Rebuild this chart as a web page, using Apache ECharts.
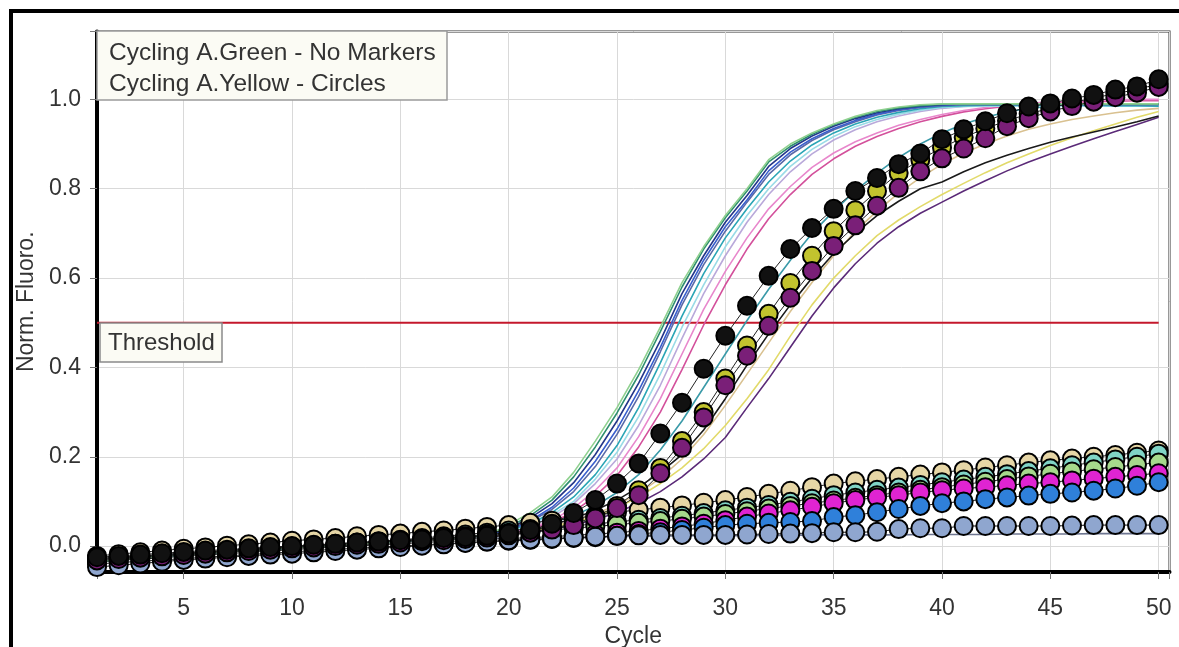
<!DOCTYPE html>
<html>
<head>
<meta charset="utf-8">
<title>Cycling A</title>
<script src="https://cdn.jsdelivr.net/npm/echarts@6/dist/echarts.min.js"></script>
<style>
html,body{margin:0;padding:0;background:#fff;}
#main{width:1179px;height:647px;}
</style>
</head>
<body>
<div id="main"></div>
<script>
// cycle numbers (x)
var cycles = [1,2,3,4,5,6,7,8,9,10,11,12,13,14,15,16,17,18,19,20,21,22,23,24,25,26,27,28,29,30,
  31,32,33,34,35,36,37,38,39,40,41,42,43,44,45,46,47,48,49,50];
var xTicks = [5,10,15,20,25,30,35,40,45,50];
var yTicks = [0.0,0.2,0.4,0.6,0.8,1.0];
var threshold = 0.5;

// Cycling A.Green - no markers: common baseline cycles 1-19, then cycles 20-50
var lineBase = [-0.035,-0.031,-0.027,-0.023,-0.019,-0.016,-0.013,-0.010,-0.007,-0.004,-0.001,0.002,0.005,0.008,0.011,0.014,0.017,0.020,0.024];
var gLightGreen = [0.048,0.075,0.11,0.165,0.235,0.31,0.395,0.49,0.59,0.67,0.74,0.80,0.865,0.90,0.925,0.945,0.962,0.975,0.983,0.988,0.99,0.99,0.99,0.99,0.99,0.99,0.99,0.99,0.99,0.99,0.99];
var gDarkGreen = [0.043,0.068,0.103,0.155,0.222,0.298,0.383,0.48,0.58,0.665,0.735,0.795,0.86,0.895,0.922,0.943,0.96,0.973,0.981,0.986,0.989,0.99,0.99,0.99,0.99,0.99,0.99,0.99,0.99,0.99,0.99];
var gNavy = [0.04,0.063,0.095,0.142,0.205,0.28,0.365,0.46,0.565,0.65,0.725,0.785,0.85,0.89,0.918,0.94,0.957,0.97,0.979,0.985,0.988,0.99,0.99,0.99,0.99,0.99,0.99,0.99,0.99,0.99,0.99];
var gBlue = [0.036,0.057,0.087,0.13,0.19,0.262,0.348,0.445,0.55,0.64,0.715,0.775,0.84,0.882,0.912,0.935,0.953,0.967,0.977,0.983,0.987,0.99,0.99,0.99,0.99,0.99,0.99,0.99,0.99,0.99,0.99];
var gSlate = [0.035,0.055,0.082,0.122,0.178,0.25,0.335,0.435,0.54,0.63,0.705,0.77,0.832,0.876,0.908,0.932,0.95,0.965,0.975,0.982,0.986,0.988,0.988,0.988,0.988,0.988,0.988,0.988,0.988,0.988,0.988];
var gTeal = [0.035,0.05,0.075,0.11,0.16,0.225,0.31,0.41,0.515,0.61,0.69,0.755,0.815,0.862,0.898,0.925,0.945,0.96,0.971,0.979,0.984,0.986,0.987,0.987,0.987,0.987,0.987,0.987,0.986,0.986,0.985];
var gCyan = [0.03,0.048,0.07,0.10,0.15,0.21,0.29,0.385,0.49,0.585,0.67,0.74,0.80,0.85,0.888,0.917,0.939,0.955,0.967,0.976,0.982,0.984,0.985,0.985,0.985,0.985,0.985,0.985,0.985,0.985,0.985];
var gLavender = [0.03,0.045,0.065,0.095,0.14,0.195,0.27,0.36,0.465,0.565,0.65,0.725,0.787,0.838,0.878,0.909,0.932,0.95,0.963,0.973,0.98,0.984,0.987,0.988,0.989,0.99,0.99,0.99,0.99,0.99,0.99];
var gPink = [0.028,0.04,0.058,0.085,0.125,0.175,0.245,0.33,0.43,0.53,0.615,0.69,0.755,0.805,0.848,0.88,0.905,0.925,0.942,0.955,0.966,0.975,0.982,0.987,0.991,0.994,0.996,0.998,0.999,1.0,1.0];
var gRose = [0.026,0.037,0.053,0.077,0.112,0.158,0.222,0.30,0.395,0.495,0.585,0.665,0.733,0.787,0.832,0.867,0.895,0.917,0.935,0.95,0.962,0.972,0.979,0.985,0.989,0.992,0.994,0.995,0.996,0.997,0.997];
var gDarkCyan = [0.03,0.04,0.052,0.068,0.09,0.12,0.16,0.215,0.28,0.355,0.43,0.505,0.575,0.64,0.70,0.75,0.795,0.835,0.87,0.90,0.925,0.945,0.96,0.972,0.98,0.985,0.988,0.99,0.99,0.99,0.99];
var gTan = [0.028,0.035,0.045,0.057,0.072,0.092,0.118,0.152,0.195,0.25,0.315,0.385,0.455,0.525,0.59,0.65,0.705,0.75,0.79,0.825,0.855,0.88,0.90,0.918,0.933,0.945,0.955,0.963,0.97,0.976,0.98];
var gBlack = [0.03,0.038,0.048,0.062,0.08,0.103,0.132,0.165,0.205,0.26,0.33,0.405,0.475,0.54,0.60,0.655,0.70,0.74,0.772,0.80,0.815,0.838,0.858,0.875,0.89,0.904,0.916,0.927,0.938,0.95,0.963];
var gYellow = [0.028,0.034,0.042,0.053,0.067,0.086,0.11,0.14,0.175,0.218,0.27,0.33,0.395,0.47,0.54,0.60,0.65,0.695,0.73,0.76,0.787,0.812,0.836,0.858,0.878,0.897,0.914,0.93,0.945,0.96,0.973];
var gPurple = [0.026,0.031,0.038,0.047,0.059,0.075,0.096,0.122,0.155,0.195,0.243,0.31,0.375,0.445,0.515,0.578,0.632,0.678,0.715,0.745,0.77,0.795,0.818,0.84,0.86,0.878,0.895,0.912,0.928,0.944,0.96];
var gFlat = [0.012,0.014,0.016,0.018,0.02,0.021,0.022,0.022,0.023,0.023,0.023,0.023,0.024,0.024,0.025,0.025,0.025,0.025,0.025,0.026,0.026,0.026,0.026,0.027,0.027,0.027,0.027,0.028,0.028,0.028,0.028];

// Cycling A.Yellow - circles (cycles 1-50)
var yBeige = [-0.022,-0.018,-0.014,-0.010,-0.006,-0.003,0.001,0.004,0.008,0.012,0.015,0.018,0.022,0.025,0.028,0.032,0.035,0.039,0.043,0.047,
  0.052,0.057,0.062,0.068,0.076,0.081,0.086,0.091,0.097,0.103,0.11,0.117,0.124,0.132,0.14,0.145,0.15,0.155,0.16,0.165,
  0.17,0.176,0.181,0.187,0.192,0.196,0.20,0.204,0.209,0.214];
var yTeal = [-0.028,-0.025,-0.022,-0.019,-0.016,-0.013,-0.010,-0.007,-0.004,-0.001,0.002,0.005,0.008,0.011,0.014,0.018,0.022,0.026,0.03,0.035,
  0.038,0.041,0.045,0.05,0.054,0.059,0.063,0.068,0.074,0.08,0.086,0.092,0.099,0.106,0.114,0.12,0.126,0.131,0.137,0.143,
  0.149,0.155,0.161,0.168,0.174,0.181,0.187,0.194,0.20,0.207];
var yGreen = [-0.03,-0.027,-0.024,-0.021,-0.018,-0.015,-0.012,-0.009,-0.006,-0.003,0.0,0.003,0.006,0.009,0.012,0.015,0.019,0.022,0.026,0.03,
  0.033,0.036,0.04,0.044,0.048,0.052,0.056,0.061,0.066,0.072,0.078,0.084,0.09,0.096,0.102,0.108,0.114,0.12,0.126,0.132,
  0.138,0.144,0.15,0.156,0.162,0.167,0.172,0.177,0.182,0.187];
var yMagenta = [-0.035,-0.032,-0.029,-0.026,-0.023,-0.020,-0.017,-0.014,-0.011,-0.008,-0.005,-0.002,0.0,0.003,0.005,0.008,0.01,0.012,0.015,0.017,
  0.019,0.021,0.024,0.027,0.03,0.034,0.039,0.044,0.05,0.058,0.066,0.073,0.08,0.088,0.096,0.103,0.109,0.114,0.12,0.125,
  0.129,0.132,0.136,0.14,0.143,0.147,0.151,0.155,0.159,0.163];
var yBlue = [-0.04,-0.037,-0.034,-0.031,-0.028,-0.025,-0.022,-0.019,-0.016,-0.013,-0.01,-0.007,-0.005,-0.002,0.0,0.003,0.005,0.008,0.01,0.012,
  0.014,0.016,0.018,0.02,0.023,0.027,0.031,0.036,0.041,0.047,0.05,0.052,0.054,0.056,0.065,0.069,0.076,0.083,0.09,0.096,
  0.10,0.105,0.109,0.113,0.117,0.12,0.124,0.129,0.135,0.143];
var ySteel = [-0.047,-0.043,-0.039,-0.035,-0.031,-0.028,-0.025,-0.022,-0.019,-0.017,-0.014,-0.011,-0.008,-0.005,-0.002,0.001,0.004,0.007,0.01,0.013,
  0.015,0.017,0.019,0.021,0.023,0.024,0.025,0.025,0.025,0.025,0.026,0.027,0.028,0.029,0.031,0.031,0.032,0.038,0.04,0.04,
  0.045,0.045,0.045,0.045,0.045,0.046,0.047,0.047,0.047,0.047];
var yOlive = [-0.028,-0.025,-0.022,-0.019,-0.016,-0.013,-0.010,-0.007,-0.004,-0.002,0.001,0.004,0.006,0.009,0.011,0.014,0.016,0.019,0.022,0.026,
  0.032,0.04,0.05,0.065,0.09,0.125,0.175,0.235,0.30,0.375,0.449,0.52,0.589,0.65,0.705,0.752,0.795,0.835,0.865,0.892,
  0.915,0.935,0.952,0.968,0.98,0.993,1.003,1.013,1.022,1.035];
var yPurple = [-0.032,-0.029,-0.026,-0.023,-0.020,-0.017,-0.014,-0.011,-0.008,-0.005,-0.003,0.0,0.003,0.005,0.008,0.011,0.013,0.016,0.019,0.024,
  0.03,0.037,0.047,0.062,0.085,0.114,0.163,0.22,0.288,0.36,0.426,0.493,0.556,0.616,0.672,0.718,0.762,0.802,0.839,0.868,
  0.89,0.913,0.94,0.958,0.973,0.985,0.995,1.005,1.015,1.028];
var yBlack = [-0.025,-0.022,-0.019,-0.016,-0.013,-0.010,-0.008,-0.005,-0.002,0.0,0.003,0.005,0.008,0.010,0.013,0.015,0.018,0.020,0.023,0.028,
  0.036,0.05,0.074,0.103,0.14,0.185,0.252,0.321,0.397,0.471,0.538,0.605,0.665,0.712,0.755,0.795,0.824,0.855,0.879,0.911,
  0.933,0.951,0.969,0.984,0.991,1.002,1.01,1.022,1.029,1.045];

function pairs(vals) {
  var out = [];
  for (var i = 0; i < vals.length; i++) out.push([cycles[i], vals[i]]);
  return out;
}

var series = [];
series.push({
  name: 'Threshold', type: 'line', silent: true, symbol: 'none',
  data: [[cycles[0], threshold], [cycles[cycles.length - 1], threshold]],
  lineStyle: { color: '#c4182c', width: 2 }
});

var lineList = [
  [gFlat, '#6d7590'], [gTan, '#d9c190'], [gPurple, '#5b2a78'], [gYellow, '#e2da6a'], [gBlack, '#1a1a1a'],
  [gDarkCyan, '#3a9aa8'], [gRose, '#d3509b'], [gPink, '#e887cc'], [gLavender, '#b9a9da'], [gCyan, '#99dbe6'],
  [gTeal, '#2aa5b5'], [gSlate, '#5a6aa8'], [gBlue, '#3a5fcd'], [gNavy, '#23358a'], [gDarkGreen, '#2f8f6f'], [gLightGreen, '#8fd18f']
];
lineList.forEach(function (l) {
  var full = lineBase.concat(l[0]);
  series.push({
    type: 'line', symbol: 'none', silent: true,
    data: pairs(full),
    lineStyle: { color: l[1], width: 1.6 }
  });
});

var markerList = [
  [yBeige, '#e6d6a6'], [yTeal, '#80d4c6'], [yGreen, '#a6d98c'], [yMagenta, '#e024d2'], [yBlue, '#2f80da'],
  [ySteel, '#8fa6cf'], [yOlive, '#c2c32e'], [yPurple, '#7a1f78'], [yBlack, '#111111']
];
markerList.forEach(function (m) {
  series.push({
    type: 'line', symbol: 'circle', symbolSize: 18, silent: true,
    data: pairs(m[0]),
    lineStyle: { color: '#222', width: 1 },
    itemStyle: { color: m[1], borderColor: '#000', borderWidth: 2 }
  });
});

var myChart = echarts.init(document.getElementById('main'));
var font = 'Liberation Sans, Arial, sans-serif';

var option = {
  animation: false,
  backgroundColor: '#fff',
  grid: {
    left: 97, right: 9.5, top: 31.5, bottom: 75,
    containLabel: false, outerBoundsMode: 'none',
    show: true, borderColor: '#333', borderWidth: 2, backgroundColor: '#fff'
  },
  xAxis: {
    type: 'value', min: 1, max: 50.5, splitNumber: 10,
    name: 'Cycle', nameLocation: 'middle', nameGap: 50,
    nameTextStyle: { fontFamily: font, fontSize: 23, color: '#333' },
    axisLine: { onZero: false, lineStyle: { color: '#000', width: 4 } },
    axisTick: { length: 7, lineStyle: { color: '#777' } },
    axisLabel: {
      fontFamily: font, fontSize: 23, color: '#333', margin: 25,
      formatter: function (v) { return xTicks.indexOf(v) >= 0 ? String(v) : ''; }
    },
    splitLine: { lineStyle: { color: '#d9d9d9', width: 1 } }
  },
  yAxis: {
    type: 'value', min: -0.058, max: 1.152, splitNumber: 6,
    name: 'Norm. Fluoro.', nameLocation: 'middle', nameGap: 48,
    nameTextStyle: { fontFamily: font, fontSize: 23, color: '#333' },
    axisLine: { show: true, onZero: false, lineStyle: { color: '#000', width: 4 } },
    axisTick: { show: true, length: 7, lineStyle: { color: '#777' } },
    axisLabel: {
      fontFamily: font, fontSize: 23, color: '#333', margin: 16,
      formatter: function (v) {
        for (var i = 0; i < yTicks.length; i++) {
          if (Math.abs(yTicks[i] - v) < 1e-6) return yTicks[i].toFixed(1);
        }
        return '';
      }
    },
    splitLine: { lineStyle: { color: '#d9d9d9', width: 1 } }
  },
  graphic: [
    { type: 'rect', z: 100, shape: { x: 11, y: 11, width: 1300, height: 800 },
      style: { fill: 'none', stroke: '#000', lineWidth: 4 } },
    { type: 'rect', z: 100, shape: { x: 97, y: 31, width: 350, height: 69 },
      style: { fill: '#fbfbf4', stroke: '#9a9a9a', lineWidth: 1.5 } },
    { type: 'text', z: 101, x: 109, y: 53,
      style: { text: 'Cycling A.Green - No Markers', font: '24.5px ' + font, fill: '#333', verticalAlign: 'middle' } },
    { type: 'text', z: 101, x: 109, y: 84,
      style: { text: 'Cycling A.Yellow - Circles', font: '24.5px ' + font, fill: '#333', verticalAlign: 'middle' } },
    { type: 'rect', z: 100, shape: { x: 100, y: 323, width: 122, height: 39 },
      style: { fill: '#fbfbf4', stroke: '#8a8a8a', lineWidth: 1.5 } },
    { type: 'text', z: 101, x: 108, y: 343,
      style: { text: 'Threshold', font: '24px ' + font, fill: '#333', verticalAlign: 'middle' } }
  ],
  series: series
};

myChart.setOption(option);
</script>
</body>
</html>
